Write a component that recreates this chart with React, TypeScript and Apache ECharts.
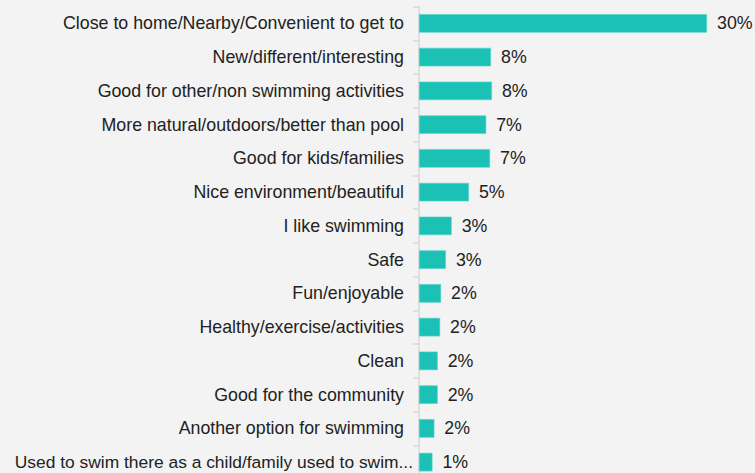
import React, { useEffect, useRef } from "react";
import * as echarts from "echarts";

const categories = [
  "Close to home/Nearby/Convenient to get to",
  "New/different/interesting",
  "Good for other/non swimming activities",
  "More natural/outdoors/better than pool",
  "Good for kids/families",
  "Nice environment/beautiful",
  "I like swimming",
  "Safe",
  "Fun/enjoyable",
  "Healthy/exercise/activities",
  "Clean",
  "Good for the community",
  "Another option for swimming",
  "Used to swim there as a child/family used to swim...",
];

const values = [30.0, 7.5, 7.6, 7.0, 7.4, 5.2, 3.4, 2.8, 2.3, 2.2, 1.95, 1.95, 1.6, 1.4];

export default function App() {
  const ref = useRef<HTMLDivElement>(null);
  useEffect(() => {
    const chart = echarts.init(ref.current!, null, { renderer: "svg" });
    const lastIdx = categories.length - 1;
    chart.setOption({
      animation: false,
      backgroundColor: "#F3F3F3",
      grid: { left: 419, right: 0, top: 6.5, bottom: 0, containLabel: false, outerBoundsMode: "none" },
      xAxis: {
        type: "value",
        min: 0,
        max: 35,
        show: false,
      },
      yAxis: {
        type: "category",
        inverse: true,
        data: categories,
        axisLine: { show: true, lineStyle: { color: "#D9D9D9", width: 1.5 } },
        axisTick: { show: true, length: 6, lineStyle: { color: "#D9D9D9", width: 1.5 } },
        axisLabel: {
          margin: 15,
          color: "#222222",
          fontFamily: "Liberation Sans, Arial, sans-serif",
          fontSize: 17.8,
          hideOverlap: false,
          formatter: (v: string, i: number) => (i === lastIdx ? "{last|" + v + "}" : v),
          rich: {
            last: {
              color: "#222222",
              fontFamily: "Liberation Sans, Arial, sans-serif",
              fontSize: 17.4,
              padding: [0, -9, 0, 0],
            },
          },
        },
        splitLine: { show: false },
      },
      series: [
        {
          type: "bar",
          data: values,
          barWidth: 18.5,
          itemStyle: { color: "#1BC1B4", borderColor: "#55D3C9", borderWidth: 0.6 },
          label: {
            show: true,
            position: "right",
            distance: 10,
            color: "#222222",
            fontFamily: "Liberation Sans, Arial, sans-serif",
            fontSize: 17.8,
            formatter: (p: any) => Math.round(p.value) + "%",
          },
        },
      ],
    });
    return () => chart.dispose();
  }, []);
  return (
    <div
      ref={ref}
      style={{ position: "absolute", left: 0, top: 0, width: 755, height: 479, overflow: "hidden" }}
    />
  );
}
